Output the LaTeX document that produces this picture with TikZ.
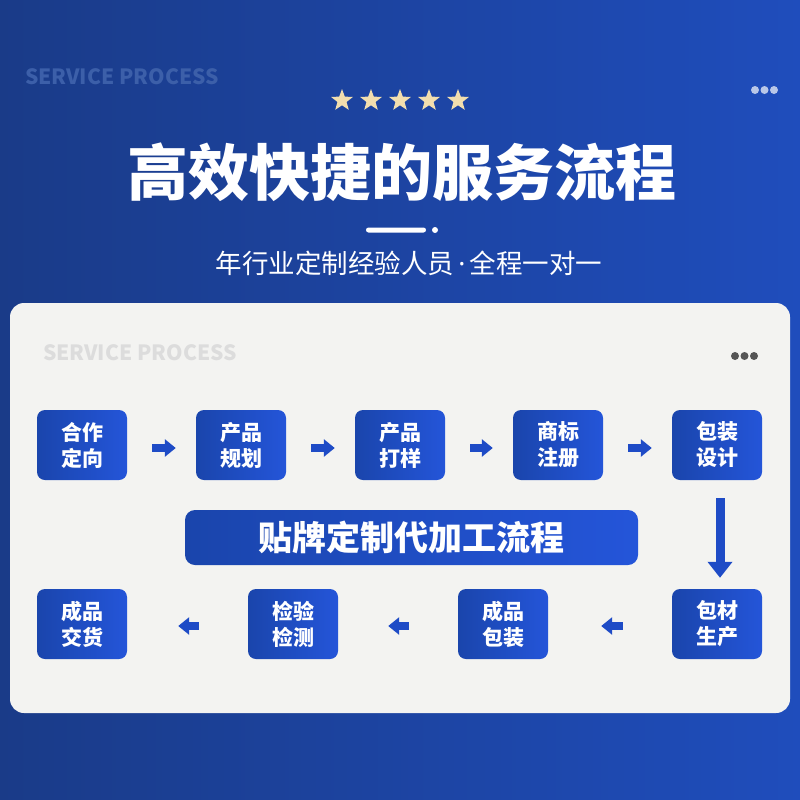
\documentclass[tikz,border=0pt]{standalone}
\usepackage{fontspec}
\setmainfont{Noto Sans CJK SC}
\newfontfamily\latinsans{Noto Sans}
\usetikzlibrary{arrows.meta,shapes.geometric}
\definecolor{bgA}{HTML}{1A3B88}
\definecolor{bgB}{HTML}{1F4DBC}
\definecolor{cardc}{HTML}{F3F3F1}
\definecolor{boxL}{HTML}{1A45AC}
\definecolor{boxR}{HTML}{2455D9}
\definecolor{arrowc}{HTML}{1E4BC6}
\definecolor{gold}{HTML}{F2DEAE}
\definecolor{sptop}{HTML}{3C5FA9}
\definecolor{spcard}{HTML}{DCDCDC}
\definecolor{dotlight}{HTML}{B9C7E8}
\definecolor{dotdark}{HTML}{555555}
\tikzset{
  stepbox/.style={minimum width=90pt, minimum height=70pt, rounded corners=8pt,
    left color=boxL, right color=boxR, text=white, align=center, inner sep=0pt,
    font=\fontsize{21}{26}\selectfont\bfseries},
  bannerbox/.style={minimum width=453pt, minimum height=55pt, rounded corners=10pt,
    left color=boxL, right color=boxR, text=white, inner sep=0pt,
    font=\fontsize{34}{34}\selectfont\bfseries},
  flowarrow/.style={draw=arrowc, line width=8pt, -{Triangle[width=17pt,length=11pt]}},
  downarrow/.style={draw=arrowc, line width=9pt, -{Triangle[width=24pt,length=16pt]}},
  goldstar/.style={star, star points=5, star point ratio=2.4, fill=gold, minimum size=23pt, inner sep=0pt},
  sptext/.style={anchor=west, inner sep=0pt, font=\fontsize{21}{21}\selectfont\bfseries}
}
\begin{document}
\begin{tikzpicture}[x=1pt,y=-1pt]
\useasboundingbox (0,0) rectangle (800,800);
\shade[left color=bgA, right color=bgB] (0,0) rectangle (800,800);
% header
\node[sptext, text=sptop] (sp1) at (25,77) {SERVICE PROCESS};
\foreach \i/\x in {1/755,2/764.5,3/774} \fill[dotlight] (\x,90) circle (4pt);
\foreach \i/\x in {1/342,2/371,3/400,4/429,5/458} \node[goldstar] (st\i) at (\x,100.5) {};
\node[text=white, inner sep=0pt, font=\fontsize{61}{61}\selectfont\bfseries] (title) at (402,172) {高效快捷的服务流程};
\fill[white, rounded corners=2.5pt] (366,227.5) rectangle (426,232.5);
\fill[white] (435,230) circle (3pt);
\node[text=white, inner sep=0pt, font=\fontsize{26.5}{27}\selectfont] (sub) at (409,263) {年行业定制经验人员{\latinsans\,·\,}全程一对一};
% card
\fill[cardc, rounded corners=14pt] (10,303) rectangle (790,713);
\node[sptext, text=spcard] (sp2) at (43,353) {SERVICE PROCESS};
\foreach \i/\x in {1/735,2/744.5,3/754} \fill[dotdark] (\x,356) circle (4pt);
% top row
\node[stepbox] (t1) at (82,445) {合作\\定向};
\node[stepbox] (t2) at (241,445) {产品\\规划};
\node[stepbox] (t3) at (400,445) {产品\\打样};
\node[stepbox] (t4) at (558,445) {商标\\注册};
\node[stepbox] (t5) at (717,445) {包装\\设计};
% banner
\node[bannerbox] (ban) at (411.5,537.5) {贴牌定制代加工流程};
% bottom row
\node[stepbox] (b1) at (82,624) {成品\\交货};
\node[stepbox] (b2) at (293,624) {检验\\检测};
\node[stepbox] (b3) at (503,624) {成品\\包装};
\node[stepbox] (b4) at (717,624) {包材\\生产};
% arrows
\draw[flowarrow] ([xshift=25pt,yshift=-3pt]t1.east) -- ([xshift=-20pt,yshift=-3pt]t2.west);
\draw[flowarrow] ([xshift=25pt,yshift=-3pt]t2.east) -- ([xshift=-20pt,yshift=-3pt]t3.west);
\draw[flowarrow] ([xshift=25pt,yshift=-3pt]t3.east) -- ([xshift=-20pt,yshift=-3pt]t4.west);
\draw[flowarrow] ([xshift=25pt,yshift=-3pt]t4.east) -- ([xshift=-20pt,yshift=-3pt]t5.west);
\draw[downarrow] ([xshift=3pt,yshift=-18pt]t5.south) -- ([xshift=3pt,yshift=11pt]b4.north);
\draw[flowarrow] ([xshift=-49pt,yshift=-2pt]b4.west) -- ([xshift=53pt,yshift=-2pt]b3.east);
\draw[flowarrow] ([xshift=-49pt,yshift=-2pt]b3.west) -- ([xshift=50pt,yshift=-2pt]b2.east);
\draw[flowarrow] ([xshift=-49pt,yshift=-2pt]b2.west) -- ([xshift=51pt,yshift=-2pt]b1.east);
\end{tikzpicture}
\end{document}
